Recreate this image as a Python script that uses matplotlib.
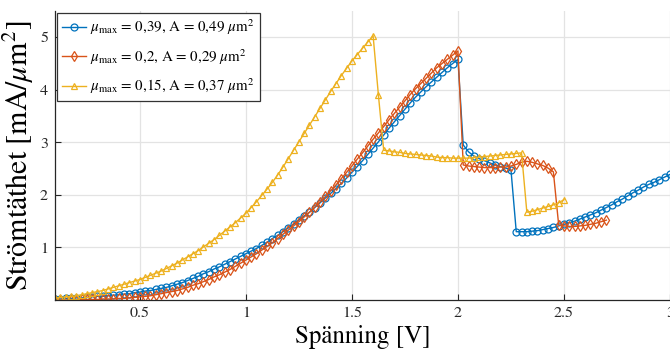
import numpy as np
import matplotlib
matplotlib.use("Agg")
import matplotlib.pyplot as plt

plt.rcParams['font.family'] = ['STIXGeneral', 'DejaVu Serif']
plt.rcParams['mathtext.fontset'] = 'stix'

# spänning sampled every 0.025 V starting at 0.1 V
v_start = 0.1
v_step = 0.025

j_039 = [0.02, 0.02, 0.03, 0.03, 0.04, 0.04, 0.05, 0.06, 0.07, 0.07,
         0.08, 0.09, 0.10, 0.11, 0.12, 0.14, 0.15, 0.17, 0.18, 0.20,
         0.22, 0.24, 0.27, 0.30, 0.33, 0.37, 0.41, 0.45, 0.50, 0.54,
         0.59, 0.63, 0.68, 0.73, 0.78, 0.83, 0.88, 0.93, 0.98, 1.04,
         1.10, 1.17, 1.23, 1.30, 1.37, 1.44, 1.52, 1.60, 1.67, 1.76,
         1.85, 1.94, 2.03, 2.12, 2.22, 2.32, 2.43, 2.54, 2.65, 2.77,
         2.89, 3.01, 3.14, 3.27, 3.39, 3.51, 3.63, 3.75, 3.86, 3.96,
         4.06, 4.15, 4.24, 4.33, 4.42, 4.50, 4.58, 2.95, 2.82, 2.74,
         2.69, 2.65, 2.61, 2.57, 2.54, 2.51, 2.48, 1.30, 1.30, 1.30,
         1.31, 1.32, 1.34, 1.36, 1.38, 1.41, 1.44, 1.47, 1.50, 1.54,
         1.58, 1.62, 1.66, 1.71, 1.76, 1.81, 1.87, 1.92, 1.98, 2.04,
         2.09, 2.15, 2.20, 2.24, 2.29, 2.34, 2.39]

j_02 = [0.00, 0.00, 0.00, 0.00, 0.00, 0.01, 0.01, 0.01, 0.01, 0.02,
        0.02, 0.02, 0.03, 0.03, 0.04, 0.05, 0.06, 0.07, 0.08, 0.10,
        0.12, 0.14, 0.16, 0.18, 0.21, 0.24, 0.28, 0.31, 0.35, 0.39,
        0.44, 0.48, 0.53, 0.58, 0.64, 0.70, 0.76, 0.82, 0.88, 0.95,
        1.02, 1.09, 1.17, 1.25, 1.33, 1.41, 1.49, 1.58, 1.67, 1.77,
        1.87, 1.97, 2.08, 2.19, 2.31, 2.43, 2.55, 2.68, 2.80, 2.93,
        3.06, 3.18, 3.30, 3.43, 3.55, 3.67, 3.79, 3.91, 4.02, 4.12,
        4.22, 4.32, 4.42, 4.50, 4.58, 4.66, 4.74, 2.57, 2.55, 2.54,
        2.53, 2.52, 2.52, 2.52, 2.53, 2.53, 2.55, 2.58, 2.62, 2.64,
        2.62, 2.59, 2.56, 2.51, 2.44, 1.43, 1.41, 1.40, 1.40, 1.41,
        1.42, 1.44, 1.46, 1.49, 1.52]

j_015 = [0.04, 0.05, 0.06, 0.07, 0.08, 0.10, 0.12, 0.14, 0.16, 0.18,
         0.21, 0.24, 0.27, 0.30, 0.33, 0.36, 0.39, 0.43, 0.47, 0.51,
         0.55, 0.60, 0.65, 0.70, 0.76, 0.82, 0.88, 0.94, 1.01, 1.08,
         1.15, 1.23, 1.31, 1.39, 1.47, 1.56, 1.65, 1.76, 1.87, 1.99,
         2.11, 2.24, 2.38, 2.53, 2.69, 2.85, 3.01, 3.17, 3.33, 3.49,
         3.65, 3.81, 3.97, 4.12, 4.27, 4.41, 4.55, 4.67, 4.79, 4.91,
         5.03, 3.90, 2.85, 2.84, 2.82, 2.81, 2.79, 2.78, 2.77, 2.76,
         2.75, 2.74, 2.72, 2.71, 2.71, 2.70, 2.70, 2.70, 2.70, 2.71,
         2.72, 2.73, 2.74, 2.75, 2.76, 2.77, 2.78, 2.79, 2.80, 1.67,
         1.69, 1.72, 1.75, 1.78, 1.81, 1.85, 1.91]

labels = [r'$\mu_{\rm max}$ = 0,39, A = 0,49 $\mu$m$^2$',
          r'$\mu_{\rm max}$ = 0,2, A = 0,29 $\mu$m$^2$',
          r'$\mu_{\rm max}$ = 0,15, A = 0,37 $\mu$m$^2$']


def volt(series):
    return np.round(v_start + v_step * np.arange(len(series)), 4)


fig = plt.figure(figsize=(6.7, 3.51), dpi=100)
ax = fig.add_axes([55 / 670, 1 - 300 / 351, 615 / 670, 289 / 351])

style = dict(mfc='none', ms=5, mew=0.9, lw=1.0)
ax.plot(volt(j_039), j_039, color='#0072BD', marker='o', label=labels[0], **style)
ax.plot(volt(j_02), j_02, color='#D95319', marker='d', label=labels[1], **style)
ax.plot(volt(j_015), j_015, color='#EDB120', marker='^', label=labels[2], **style)

ax.set_xlim(0.1, 3.0)
ax.set_ylim(0, 5.5)
ax.set_xticks([0.5, 1, 1.5, 2, 2.5, 3])
ax.set_xticklabels(['0.5', '1', '1.5', '2', '2.5', '3'])
ax.set_yticks([1, 2, 3, 4, 5])

ax.grid(True, color='#e3e3e3', linewidth=0.9)
ax.set_axisbelow(True)
for s in ['top', 'right']:
    ax.spines[s].set_visible(False)
for s in ['left', 'bottom']:
    ax.spines[s].set_color('#262626')
    ax.spines[s].set_linewidth(0.9)
ax.tick_params(direction='in', length=4, width=0.8, colors='#262626',
               labelsize=11.5, pad=5)

ax.set_xlabel('Spänning [V]', fontsize=18, labelpad=3)
ax.set_ylabel(r'Strömtäthet [mA/$\mu$m$^2$]', fontsize=21.5, labelpad=3)

leg = ax.legend(loc='upper left', bbox_to_anchor=(0, 1.0), borderaxespad=0.1,
                fontsize=10.8, fancybox=False, framealpha=1, edgecolor='#333333',
                handlelength=1.6, handletextpad=0.3, numpoints=1,
                borderpad=0.35, labelspacing=0.65)
leg.get_frame().set_linewidth(0.9)

plt.savefig('out.png', dpi=100)
